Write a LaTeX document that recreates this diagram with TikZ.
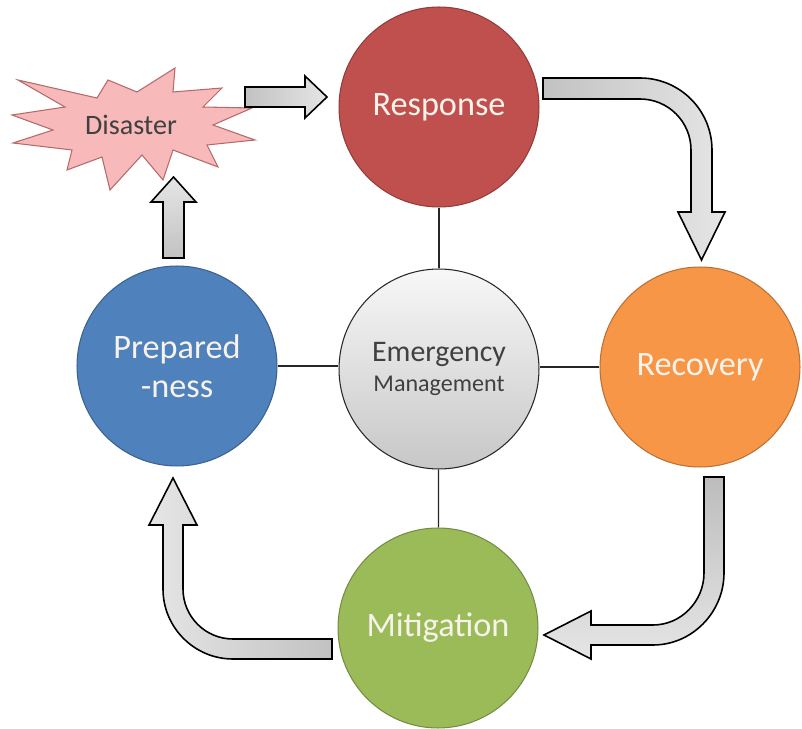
\documentclass[tikz,border=0pt]{standalone}
\usepackage{fontspec}
\setmainfont{Carlito}
\usepackage{xcolor}
\usepackage{tikz}
\usetikzlibrary{positioning,arrows.meta}

\definecolor{respred}{HTML}{C0504D}
\definecolor{prepblue}{HTML}{4F81BD}
\definecolor{recorange}{HTML}{F79646}
\definecolor{mitgreen}{HTML}{9BBB59}
\definecolor{labelwhite}{HTML}{F7F3EA}
\definecolor{burstpink}{HTML}{F7B9B9}
\definecolor{burstedge}{HTML}{B46A6A}

\begin{document}
\begin{tikzpicture}[x=0.02cm, y=-0.02cm,
    phase/.style={circle, draw=#1!75!black, fill=#1, line width=0.6pt, minimum size=4cm,
        inner sep=0pt, align=center, text=labelwhite, font=\fontsize{19.5}{21}\selectfont},
    hub/.style={circle, draw=black!85, line width=0.6pt, top color=black!3, bottom color=black!22,
        minimum size=4cm, inner sep=0pt, align=center, text=black!75},
    blockarrow/.style={draw=black, line width=0.9pt, #1},
    link/.style={draw=black!85, line width=0.7pt}]
    \useasboundingbox (0,0) rectangle (802,729);

    % Disaster burst
    \path[draw=burstedge, fill=burstpink, line width=0.6pt]
        (18,80) -- (97,98) -- (108,80) -- (137,92) -- (175,68) -- (173,92) -- (222,88)
        -- (203,107) -- (252,108) -- (213,125) -- (255,140) -- (207,145) -- (218,167)
        -- (173,150) -- (163,180) -- (142,155) -- (110,190) -- (102,157) -- (67,170)
        -- (72,150) -- (13,143) -- (53,130) -- (12,115) -- (65,107) -- cycle;
    \node (dis) at (131,125) {\fontsize{16}{18}\selectfont\color{black!75}Disaster};

    % Nodes
    \node[phase=respred] (resp) at (439,107) {Response};
    \node[phase=prepblue] (prep) at (177,366) {Prepared\\[1pt]-ness};
    \node[hub] (em) at (439,369) {\fontsize{17}{19}\selectfont Emergency\\[5pt]
        \fontsize{13.7}{15}\selectfont Management};
    \node[phase=recorange] (rec) at (700,367) {Recovery};
    \node[phase=mitgreen] (mit) at (438,628) {Mitigation};

    % Links to the hub
    \draw[link] (resp) -- (em);
    \draw[link] (prep.east) -- (prep.east -| em.west);
    \draw[link] (rec.west) -- (rec.west -| em.east);
    \draw[link] (mit) -- (em);

    % Block arrows
    \path[blockarrow={left color=black!24, right color=black!10}]
        (245,87) -- (305,87) -- (305,76) -- (327,97) -- (305,118) -- (305,107)
        -- (245,107) -- cycle;
    \path[blockarrow={bottom color=black!24, top color=black!10}]
        (163,258) -- (163,202) -- (151,202) -- (173.5,177) -- (196,202) -- (184,202)
        -- (184,258) -- cycle;
    \path[blockarrow={left color=black!24, right color=black!10}]
        (543,78) -- (640,78) .. controls (679.8,78) and (712,110.2) .. (712,150)
        -- (712,212) -- (725,212) -- (701.5,260) -- (678,212) -- (691,212) -- (691,150)
        .. controls (691,121.8) and (668.2,99) .. (640,99) -- (543,99) -- cycle;
    \path[blockarrow={top color=black!26, bottom color=black!10}]
        (704,477) -- (724,477) -- (724,573) .. controls (724,612.2) and (692.2,645) .. (653,645)
        -- (591,645) -- (591,659) -- (544,635) -- (591,611) -- (591,625) -- (653,625)
        .. controls (681.2,625) and (704,601.2) .. (704,573) -- cycle;
    \path[blockarrow={right color=black!24, left color=black!10}]
        (332,639) -- (332,659) -- (233,659) .. controls (194.4,659) and (163,627.6) .. (163,589)
        -- (163,525) -- (149,525) -- (173,478) -- (197,525) -- (183,525) -- (183,589)
        .. controls (183,616.6) and (205.4,639) .. (233,639) -- cycle;
\end{tikzpicture}
\end{document}
